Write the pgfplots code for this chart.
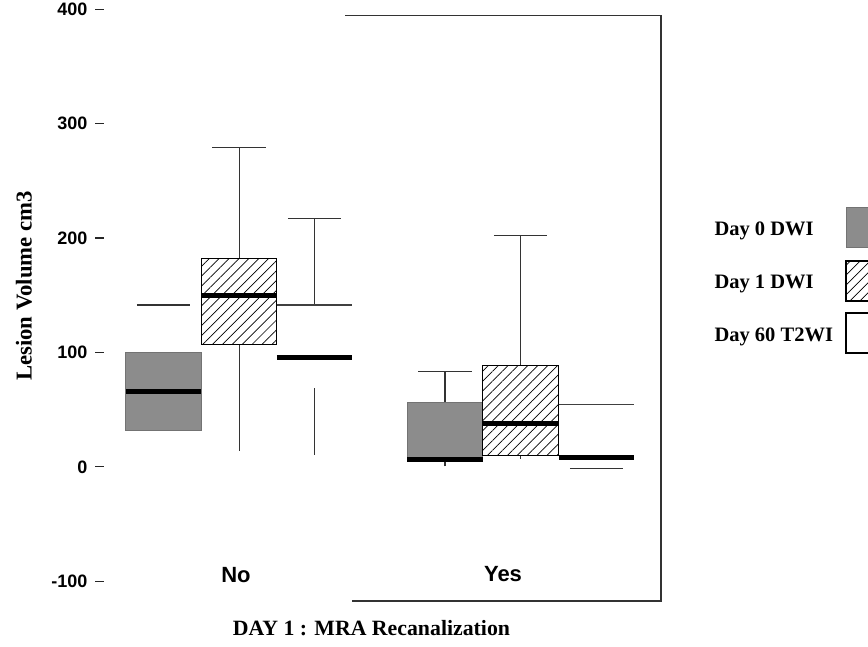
\documentclass[border=0pt]{standalone}
\usepackage{pgfplots}
\pgfplotsset{compat=1.18}
\usepgfplotslibrary{statistics}
\usepackage{fontspec}
\setmainfont{Liberation Serif}
\setsansfont{Liberation Sans}
\usetikzlibrary{patterns.meta}
\pgfplotsset{
 lowstub/.style={/pgfplots/boxplot/draw/lower whisker/.code={%
   \draw[/pgfplots/boxplot/every whisker/.try] (boxplot cs:\pgfplotsboxplotvalue{lower whisker}) -- (boxplot cs:\pgfplotsboxplotvalue{lower quartile});}},
 lowcaponly/.style={/pgfplots/boxplot/draw/lower whisker/.code={%
   \draw[/pgfplots/boxplot/every whisker/.try] (boxplot whisker cs:\pgfplotsboxplotvalue{lower whisker},0) -- (boxplot whisker cs:\pgfplotsboxplotvalue{lower whisker},1);}},
 upcaponly/.style={/pgfplots/boxplot/draw/upper whisker/.code={%
   \draw[/pgfplots/boxplot/every whisker/.try] (boxplot whisker cs:\pgfplotsboxplotvalue{upper whisker},0) -- (boxplot whisker cs:\pgfplotsboxplotvalue{upper whisker},1);}},
 topedgeonly/.style={/pgfplots/boxplot/draw/box/.code={%
   \fill[white] (boxplot box cs:\pgfplotsboxplotvalue{lower quartile},0) rectangle (boxplot box cs:\pgfplotsboxplotvalue{upper quartile},1);
   \draw[black!75,line width=1.1pt] (boxplot box cs:\pgfplotsboxplotvalue{upper quartile},0) -- (boxplot box cs:\pgfplotsboxplotvalue{upper quartile},1);}},
 dayzero/.style={boxplot/every box/.style={draw=black!55,line width=1pt,fill=black!45}},
 dayone/.style={boxplot/every box/.style={draw=black,line width=0.9pt,fill=white,postaction={pattern={Lines[angle=45,distance=7pt,line width=0.7pt]}}}},
}
\begin{document}
\begin{tikzpicture}[x=1pt,y=1pt]
\useasboundingbox (0,0) rectangle (868,646);
\begin{axis}[
  at={(104,45)}, anchor=south west,
  width=557pt, height=585.3pt, scale only axis,
  xmin=104, xmax=661, ymin=-111.6, ymax=400,
  axis line style={draw=none},
  xtick=\empty,
  ytick={-100,0,100,200,300,400},
  ytick pos=left, tick align=outside,
  major tick length=9pt,
  ytick style={black!85,line width=1.2pt},
  yticklabel style={font=\sffamily\bfseries\fontsize{18}{18}\selectfont,xshift=-4pt},
  /pgf/number format/assume math mode=true,
  boxplot/draw direction=y,
  boxplot/box extend=75.4,
  boxplot/whisker extend=53.5,
  boxplot/every median/.style={black,line width=5pt},
  boxplot/every whisker/.style={black!80,line width=1.1pt},
]
% Day 0 DWI, No
\addplot[black!80, dayzero, lowstub, upcaponly, boxplot prepared={draw position=163.5,
  lower whisker=31.7, lower quartile=31.7, median=65.6, upper quartile=100, upper whisker=141.5}] coordinates {};
% Day 1 DWI, No
\addplot[black!80, dayone, lowstub, boxplot prepared={draw position=239.2,
  lower whisker=14, lower quartile=107, median=150, upper quartile=182, upper whisker=279}] coordinates {};
% Day 60 T2WI, No
\addplot[black!80, topedgeonly, lowstub, boxplot prepared={draw position=314.5,
  lower whisker=10.5, lower quartile=70, median=95.6, upper quartile=141.5, upper whisker=217}] coordinates {};
% Day 0 DWI, Yes
\addplot[black!80, dayzero, lowstub, boxplot prepared={draw position=445,
  lower whisker=0.3, lower quartile=5.5, median=6, upper quartile=56, upper whisker=83.4}] coordinates {};
% Day 1 DWI, Yes
\addplot[black!80, dayone, lowstub, boxplot prepared={draw position=520.5,
  lower whisker=7, lower quartile=9.9, median=38, upper quartile=89, upper whisker=202.5}] coordinates {};
% Day 60 T2WI, Yes
\addplot[black!80, topedgeonly, lowcaponly, boxplot prepared={draw position=596.5,
  lower whisker=-1.7, lower quartile=7, median=8.5, upper quartile=54.3, upper whisker=54.3}] coordinates {};
\end{axis}
% frame (partly faded in the original scan)
\draw[black!80,line width=1.2pt] (345,630.3) -- (661,630.3) -- (661,45) -- (352,45);
% category labels
\node[font=\sffamily\bfseries\fontsize{22}{22}\selectfont] at (236,71) {No};
\node[font=\sffamily\bfseries\fontsize{22}{22}\selectfont] at (503,72) {Yes};
% axis titles
\node[rotate=90,font=\rmfamily\bfseries\fontsize{22.7}{24}\selectfont] at (24,360) {Lesion Volume cm3};
\node[font=\rmfamily\bfseries\fontsize{21.8}{22}\selectfont] at (371.5,18) {DAY 1 : MRA Recanalization};
% legend
\begin{scope}
\clip (0,0) rectangle (868,646);
\node[anchor=west,font=\rmfamily\bfseries\fontsize{20.5}{21}\selectfont] at (711,415) {Day 0 DWI};
\node[anchor=west,font=\rmfamily\bfseries\fontsize{20.5}{21}\selectfont] at (711,362) {Day 1 DWI};
\node[anchor=west,font=\rmfamily\bfseries\fontsize{20.5}{21}\selectfont] at (711,309) {Day 60 T2WI};
\draw[black!55,line width=1pt,fill=black!45] (846,398) rectangle (885,438);
\draw[black,line width=1.1pt,fill=white,postaction={pattern={Lines[angle=45,distance=7pt,line width=0.7pt]}}] (846,345) rectangle (885,385);
\draw[black,line width=1.2pt,fill=white] (846,293) rectangle (885,333);
\end{scope}
\end{tikzpicture}
\end{document}
